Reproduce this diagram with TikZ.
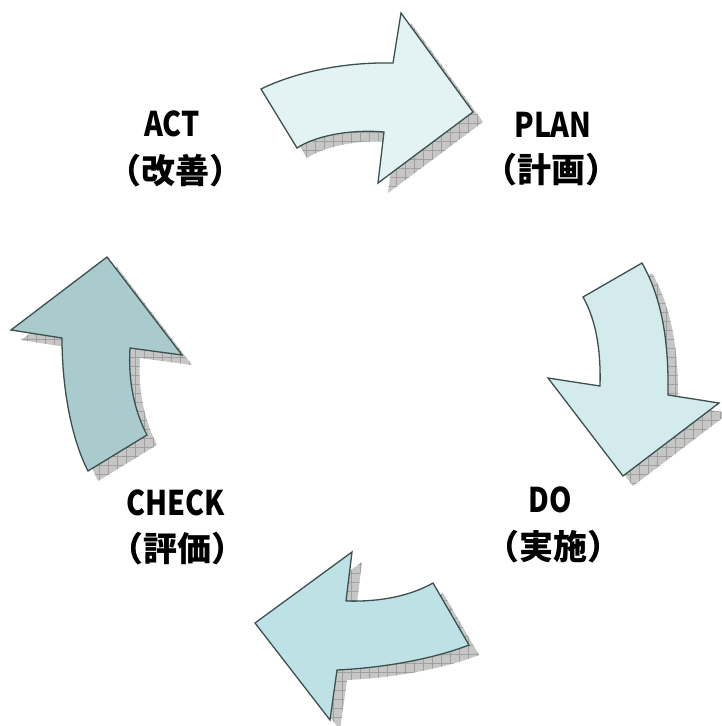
\documentclass[tikz,border=0pt]{standalone}
\usepackage{fontspec}
\newfontfamily\jp{Noto Sans CJK JP}
\newfontfamily\jplat{Noto Sans CJK JP}[FakeStretch=0.84]
\usetikzlibrary{patterns.meta}
\definecolor{strk}{HTML}{3C5050}
\definecolor{cA}{HTML}{E3F3F3}
\definecolor{cB}{HTML}{D3EBEC}
\definecolor{cC}{HTML}{BDE1E4}
\definecolor{cD}{HTML}{A9CBCD}
\tikzset{
  arrowshape/.style={draw=strk, line width=1.3pt, line join=miter},
  shadowfill/.style={fill=gray!45},
  shadowgrid/.style={pattern={Lines[distance=9pt,angle=0,line width=0.5pt]}, pattern color=gray!75},
  shadowgrid2/.style={pattern={Lines[distance=9pt,angle=90,line width=0.5pt]}, pattern color=gray!75},
  lbl/.style={font=\jplat\bfseries\fontsize{34}{38}\selectfont, inner sep=0pt, anchor=center},
  lblj/.style={font=\jp\bfseries\fontsize{34}{38}\selectfont, inner sep=0pt, anchor=center}
}
\newcommand{\arrowPlan}{(261,89) .. controls (300,70) and (350,62) .. (393,63) -- (401,13) -- (473,112) -- (378,183) -- (384,132) .. controls (350,129) and (315,136) .. (297,148) -- cycle}
\newcommand{\arrowDo}{(583,297) -- (642,263) .. controls (660,295) and (669,335) .. (668,395) -- (719,403) -- (623,476) -- (548,378) -- (600,386) .. controls (601,350) and (596,320) .. cycle}
\newcommand{\arrowCheck}{(433,583) -- (469,645) .. controls (430,660) and (380,668) .. (337,670) -- (330,720) -- (255,623) -- (352,552) -- (346,601) .. controls (380,602) and (410,596) .. cycle}
\newcommand{\arrowAct}{(107,257) -- (182,355) -- (130,348) .. controls (128,380) and (134,410) .. (147,435) -- (88,471) .. controls (72,440) and (62,390) .. (62,338) -- (11,330) -- cycle}
\begin{document}
\begin{tikzpicture}[x=1pt,y=-1pt]
\useasboundingbox (0,0) rectangle (721,726);
% shadows
\foreach \p in {\arrowPlan,\arrowDo,\arrowCheck,\arrowAct}{
  \begin{scope}[shift={(10,10)}]
    \fill[shadowfill] \p;
    \fill[shadowgrid] \p;
    \fill[shadowgrid2] \p;
  \end{scope}
}
% arrows
\filldraw[arrowshape, fill=cA] \arrowPlan;
\filldraw[arrowshape, fill=cB] \arrowDo;
\filldraw[arrowshape, fill=cC] \arrowCheck;
\filldraw[arrowshape, fill=cD] \arrowAct;
% labels
\node[lbl] (act) at (172,124) {ACT};
\node[lblj] (actj) at (175,171) {（改善）};
\node[lbl] (plan) at (553,125) {PLAN};
\node[lblj] (planj) at (551,170) {（計画）};
\node[lbl] (check) at (176,503) {CHECK};
\node[lblj] (checkj) at (177,549) {（評価）};
\node[lbl] (do) at (550,500) {DO};
\node[lblj] (doj) at (553,547) {（実施）};
\end{tikzpicture}
\end{document}
